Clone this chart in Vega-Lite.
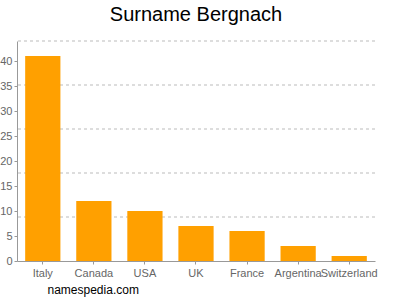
{
  "$schema": "https://vega.github.io/schema/vega-lite/v6.json",
  "width": 358,
  "height": 220,
  "autosize": "none",
  "padding": {"left": 17, "top": 41, "right": 25, "bottom": 39},
  "background": "white",
  "config": {
    "font": "Liberation Sans",
    "view": {"stroke": null},
    "axis": {"labelFont": "Liberation Sans", "labelColor": "#666", "labelFontSize": 11, "domainColor": "#999", "tickColor": "#999", "tickSize": 3, "grid": false}
  },
  "title": {"text": "Surname Bergnach", "fontSize": 20, "fontWeight": "normal", "color": "#000", "anchor": "middle", "offset": 16, "font": "Liberation Sans"},
  "datasets": {
    "counts": [
      {"country": "Italy", "count": 41},
      {"country": "Canada", "count": 12},
      {"country": "USA", "count": 10},
      {"country": "UK", "count": 7},
      {"country": "France", "count": 6},
      {"country": "Argentina", "count": 3},
      {"country": "Switzerland", "count": 1}
    ],
    "grid": [
      {"g": 8.8}, {"g": 17.6}, {"g": 26.4}, {"g": 35.2}, {"g": 44}
    ]
  },
  "resolve": {"axis": {"y": "independent"}},
  "layer": [
    {
      "data": {"name": "grid"},
      "mark": {"type": "rule", "color": "#bbb", "strokeDash": [3, 3], "strokeWidth": 1},
      "encoding": {"y": {"field": "g", "type": "quantitative", "axis": null, "scale": {"domain": [0, 44], "nice": false}}}
    },
    {
      "data": {"name": "counts"},
      "mark": {"type": "bar", "color": "#FFA000"},
      "encoding": {
        "x": {
          "field": "country", "type": "nominal", "sort": null,
          "scale": {"paddingInner": 0.31, "paddingOuter": 0.16},
          "axis": {"labelAngle": 0, "title": "namespedia.com", "titleFontSize": 12, "titleFontWeight": "normal", "titleColor": "#000", "titleAnchor": "start", "titleAlign": "left", "titleX": 30, "titlePadding": 6, "labelPadding": 3}
        },
        "y": {
          "field": "count", "type": "quantitative",
          "scale": {"domain": [0, 44], "nice": false},
          "axis": {"values": [0, 5, 10, 15, 20, 25, 30, 35, 40], "title": null, "labelPadding": 2, "labelOverlap": false}
        }
      }
    }
  ]
}
